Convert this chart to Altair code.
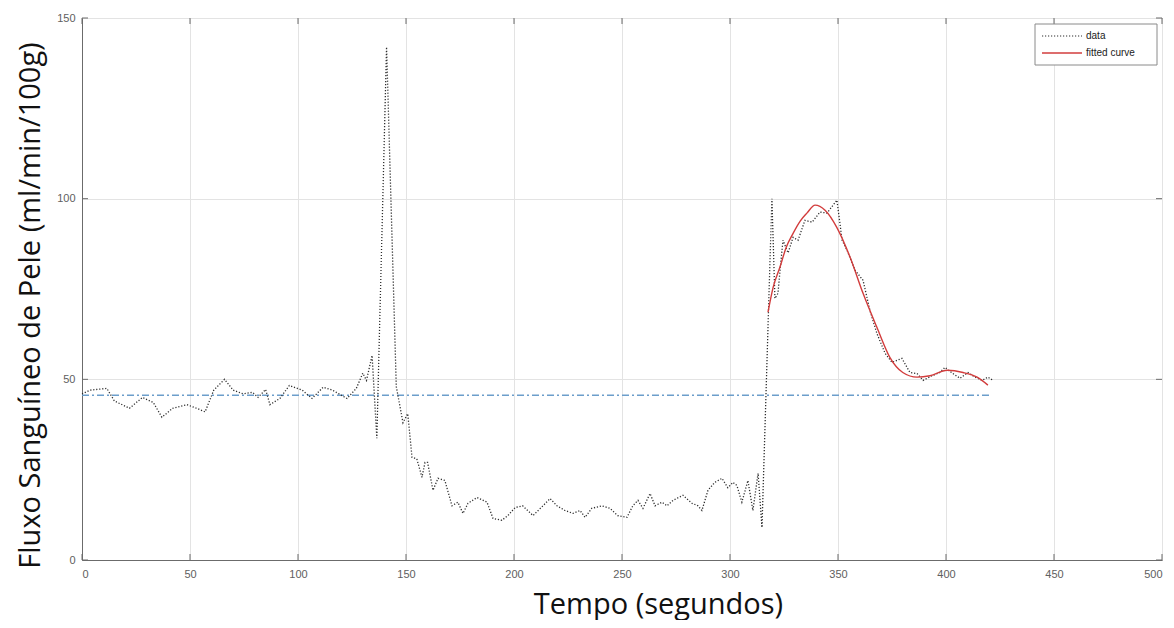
import altair as alt
import pandas as pd

# ---- data ----
data_t = [0, 3.7, 11.5, 15, 22, 28, 33, 37, 42, 48.5, 53, 57, 61, 66, 70, 74.5, 79, 81.5, 85, 87,
          91.6, 96, 102, 106.5, 111.6, 116, 122.7, 127, 130, 131.7, 134.3, 136.5, 141, 145.5, 148.6,
          150.8, 152.8, 155, 157.4, 158.8, 160, 162.5, 164.8, 168, 171.3, 174, 176.4, 178.7, 182.9,
          187.5, 190.3, 194.4, 197.2, 200.5, 204, 208.8, 213.4, 216.7, 219.9, 223.6, 227.3, 230.6,
          232.9, 236, 240.7, 244.4, 248, 252.3, 255, 257.4, 259.7, 263, 265.3, 268.5, 270.8, 273.6,
          278.2, 282.4, 285.2, 287, 289.8, 293, 296.3, 299, 301.4, 303.2, 305.5, 308.3, 310.6, 313,
          314.8, 319.4, 320.8, 322.2, 324.5, 326.9, 329.2, 331.5, 334.7, 338, 341.7, 344.9, 349.5,
          351.9, 354.2, 357.9, 361.6, 364.8, 368, 371.8, 375, 379.6, 383.3, 386.6, 389.4, 393.5,
          397.2, 399.5, 403.2, 406.5, 410.2, 413.4, 416.7, 419.4, 421.8]
data_v = [46, 47, 47.5, 44, 42, 45, 43.6, 39.5, 42, 43, 42, 41, 47, 50, 47, 46, 46.4, 45, 47.2, 43,
          44.7, 48.3, 47, 44.7, 47.8, 47, 44.7, 47.5, 51.7, 49.7, 56.6, 33.7, 142, 48, 38,
          40.5, 28.4, 28, 22.9, 27, 27, 19.3, 22.6, 22, 15, 16, 12.9, 15.7, 17.3,
          16, 11.5, 11, 12.3, 14.5, 15, 12.3, 15, 17, 15, 13.7, 12.9, 13.7,
          11.8, 14.3, 15, 14.3, 12.3, 11.8, 15, 16.5, 14.3, 18.4, 15, 16, 15, 16.5,
          17.9, 15.7, 15, 13.7, 19.3, 21.5, 22.6, 20, 21.5, 20.6, 16, 22, 13.7, 24,
          9, 100, 72.4, 73.8, 88.5, 85, 89.3, 88.5, 94, 93.5, 96.3, 96, 99.6,
          88.5, 85.7, 80.2, 77.4, 69, 62.7, 57.2, 54.7, 55.8, 51.9, 51.6, 49.7, 51,
          51.9, 53.3, 51.6, 50.3, 51.9, 50.6, 49.7, 50.6, 49.7]

fit_t = [317.6, 320, 323.1, 326, 329.2, 332.5, 335.6, 339.4, 344, 349.5, 355.6, 361.6, 368, 374,
         380, 386.6, 392.6, 400.5, 407.9, 414.4, 419.4]
fit_v = [68.6, 75.5, 81, 86.5, 90.4, 93.8, 96, 98.2, 96.8, 92, 83.8, 73.8, 64.4, 56.1,
         51.9, 50.6, 51, 52.5, 51.9, 50.6, 48.4]

baseline_t = [0, 420]
baseline_v = [45.6, 45.6]

x_ticks = [0, 50, 100, 150, 200, 250, 300, 350, 400, 450, 500]
y_ticks = [0, 50, 100, 150]

legend_labels = ["data", "fitted curve"]

# ---- build tables ----
df_data = pd.DataFrame({"t": data_t, "v": data_v})
df_fit = pd.DataFrame({"t": fit_t, "v": fit_v})
df_base = pd.DataFrame({"t": baseline_t, "v": baseline_v})
df_xt = pd.DataFrame({"t": x_ticks})
df_yt = pd.DataFrame({"v": y_ticks})
df_one = pd.DataFrame({"k": [0]})

W, H = 1080, 542
FONT = "Open Sans"
TITLE_SIZE = 29
DATA_COL = "#2e2e2e"
FIT_COL = "#d23c3c"
BASE_COL = "#6c9ecb"

x_scale = alt.Scale(domain=[0, 500], nice=False, zero=False)
y_scale = alt.Scale(domain=[0, 150], nice=False)

x_axis = alt.Axis(values=x_ticks, title="Tempo (segundos)", grid=True, tickSize=0,
                  labelPadding=8, titleX=576, titleY=44, titleAlign="center",
                  titleBaseline="middle", titleFont=FONT, titleFontSize=TITLE_SIZE,
                  titleFontWeight="normal", titleColor="#111111")
y_axis = alt.Axis(values=y_ticks, title="Fluxo Sanguíneo de Pele (ml/min/100g)", grid=True,
                  tickSize=0, labelPadding=7, titleX=-52, titleY=287, titleAngle=270,
                  titleAlign="center", titleBaseline="middle", titleFont=FONT,
                  titleFontSize=TITLE_SIZE, titleFontWeight="normal", titleColor="#111111")

base_line = alt.Chart(df_base).mark_line(color=BASE_COL, strokeWidth=1.3,
                                         strokeDash=[7, 3, 2, 3]).encode(
    x=alt.X("t:Q", scale=x_scale, axis=x_axis),
    y=alt.Y("v:Q", scale=y_scale, axis=y_axis),
)

data_line = alt.Chart(df_data).mark_line(color=DATA_COL, strokeWidth=1.3,
                                         strokeDash=[1.2, 1.8]).encode(
    x=alt.X("t:Q", scale=x_scale),
    y=alt.Y("v:Q", scale=y_scale),
)

fit_line = alt.Chart(df_fit).mark_line(color=FIT_COL, strokeWidth=1.4,
                                       interpolate="monotone").encode(
    x=alt.X("t:Q", scale=x_scale),
    y=alt.Y("v:Q", scale=y_scale),
)

# inward tick marks (MATLAB style) on all four sides
tick_col = "#6b6b6b"
xt_bottom = alt.Chart(df_xt).mark_rule(color=tick_col).encode(
    x=alt.X("t:Q", scale=x_scale), y=alt.value(H - 6), y2=alt.value(H))
xt_top = alt.Chart(df_xt).mark_rule(color=tick_col).encode(
    x=alt.X("t:Q", scale=x_scale), y=alt.value(0), y2=alt.value(6))
yt_left = alt.Chart(df_yt).mark_rule(color=tick_col).encode(
    y=alt.Y("v:Q", scale=y_scale), x=alt.value(0), x2=alt.value(6))
yt_right = alt.Chart(df_yt).mark_rule(color=tick_col).encode(
    y=alt.Y("v:Q", scale=y_scale), x=alt.value(W - 6), x2=alt.value(W))

# legend box (MATLAB style, top-right inside the axes)
LX0, LX1, LY0, LY1 = 953, 1075, 6, 47
ROW1, ROW2 = LY0 + 12, LY0 + 29
leg_box = alt.Chart(df_one).mark_rect(fill="white", stroke="#8a8a8a", strokeWidth=1).encode(
    x=alt.value(LX0), x2=alt.value(LX1), y=alt.value(LY0), y2=alt.value(LY1))
leg_sym_data = alt.Chart(df_one).mark_rule(color=DATA_COL, strokeWidth=1.2,
                                           strokeDash=[1.2, 1.8]).encode(
    x=alt.value(LX0 + 7), x2=alt.value(LX0 + 47), y=alt.value(ROW1))
leg_sym_fit = alt.Chart(df_one).mark_rule(color=FIT_COL, strokeWidth=1.4).encode(
    x=alt.value(LX0 + 7), x2=alt.value(LX0 + 47), y=alt.value(ROW2))
leg_text_data = alt.Chart(df_one).mark_text(align="left", baseline="middle",
                                            font="Liberation Sans", fontSize=10,
                                            color="#222222").encode(
    x=alt.value(LX0 + 51), y=alt.value(ROW1), text=alt.value(legend_labels[0]))
leg_text_fit = alt.Chart(df_one).mark_text(align="left", baseline="middle",
                                           font="Liberation Sans", fontSize=10,
                                           color="#222222").encode(
    x=alt.value(LX0 + 51), y=alt.value(ROW2), text=alt.value(legend_labels[1]))

chart = alt.layer(base_line, data_line, fit_line, xt_bottom, xt_top, yt_left, yt_right,
                  leg_box, leg_sym_data, leg_sym_fit, leg_text_data, leg_text_fit).properties(
    width=W, height=H,
    autosize=alt.AutoSizeParams(type="none"),
    padding={"left": 74, "top": 10, "right": 4, "bottom": 60},
).configure_view(
    stroke="#6b6b6b", strokeWidth=1,
).configure_axis(
    gridColor="#e3e3e3", gridWidth=1, domainColor="#6b6b6b", domainWidth=1,
    labelFont="Liberation Sans", labelFontSize=11, labelColor="#606060",
)

chart.save("out.html", embed_options={"renderer": "svg", "actions": False})
